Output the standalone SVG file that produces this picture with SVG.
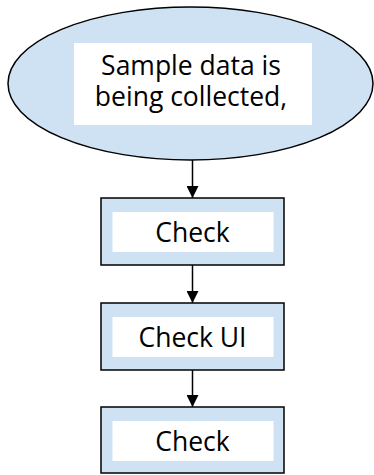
<svg xmlns="http://www.w3.org/2000/svg" width="374" height="475" viewBox="0 0 374 475">
<defs>
<style>
.shape{fill:#cfe2f3;stroke:#000;stroke-width:1.5}
.inner{fill:#fff}
.lbl{font-family:"Open Sans","Noto Sans",sans-serif;font-size:26.5px;fill:#000;text-anchor:middle}
.conn{stroke:#000;stroke-width:1.5;fill:none}
</style>
<marker id="arr" viewBox="0 0 12 12" refX="12" refY="6" markerWidth="12" markerHeight="12" markerUnits="userSpaceOnUse" orient="auto">
<path d="M0,0 L12,6 L0,12 z" fill="#000"/>
</marker>
</defs>
<g id="connectors">
<line class="conn" x1="192.5" y1="160" x2="192.5" y2="198" marker-end="url(#arr)"/>
<line class="conn" x1="192.5" y1="265" x2="192.5" y2="303" marker-end="url(#arr)"/>
<line class="conn" x1="192.5" y1="370" x2="192.5" y2="407" marker-end="url(#arr)"/>
</g>
<g id="start">
<ellipse class="shape" cx="190.5" cy="83.5" rx="182.5" ry="76.5"/>
<rect class="inner" x="74" y="43" width="238" height="82"/>
<text class="lbl" x="191" y="75"><tspan x="191" y="75">Sample data is</tspan><tspan x="191" y="106">being collected,</tspan></text>
</g>
<g id="check1">
<rect class="shape" x="101" y="198" width="183" height="67"/>
<rect class="inner" x="112.5" y="212" width="161" height="40"/>
<text class="lbl" x="192.5" y="242">Check</text>
</g>
<g id="check2">
<rect class="shape" x="101" y="303" width="183" height="67"/>
<rect class="inner" x="112.5" y="317" width="161" height="40"/>
<text class="lbl" x="192.5" y="347">Check UI</text>
</g>
<g id="check3">
<rect class="shape" x="101" y="407" width="183" height="66"/>
<rect class="inner" x="112.5" y="421" width="161" height="40"/>
<text class="lbl" x="192.5" y="451">Check</text>
</g>
</svg>
